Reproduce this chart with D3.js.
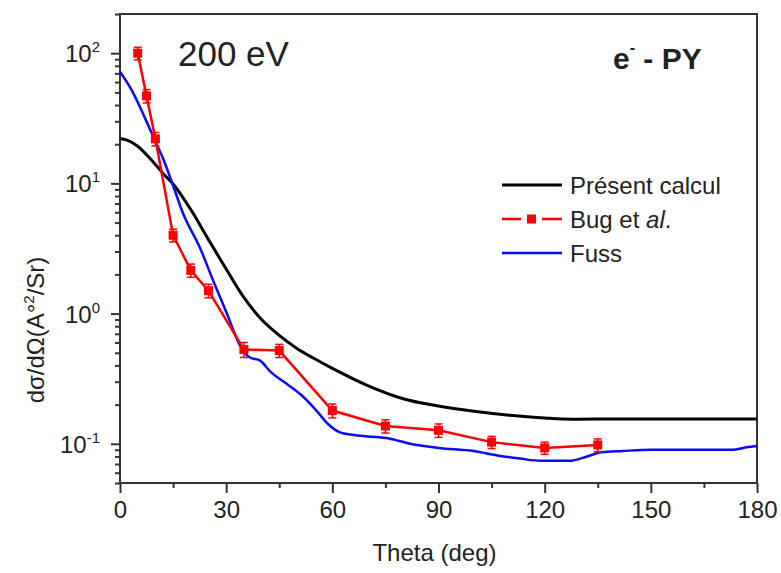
<!DOCTYPE html>
<html>
<head>
<meta charset="utf-8">
<script src="https://cdn.jsdelivr.net/npm/d3@7"></script>
<style>
  body { margin: 0; background: #fff; }
  text { font-family: "Liberation Sans", Arial, sans-serif; fill: #222; }
</style>
</head>
<body>
<svg id="chart"></svg>
<script>
// ~~~~~~~~~ DATA ~~~~~~~~~
var thetaCalc = [0, 2, 5, 9, 12.7, 15, 20, 25, 30, 35, 40, 45, 50, 55, 60, 70, 80, 90, 100, 110, 120, 125, 140, 160, 180];
var sigmaCalc = [22, 21.5, 19.3, 15, 11.5, 9.9, 6.3, 3.7, 2.2, 1.33, 0.9, 0.68, 0.54, 0.45, 0.38, 0.28, 0.222, 0.195, 0.178, 0.166, 0.158, 0.155, 0.155, 0.155, 0.155];

var thetaFuss = [0, 3.3, 7, 10, 12.7, 15, 17.8, 22.6, 26.3, 30.2, 33.9, 35, 36.7, 39.6, 42.4, 47, 51, 55.5, 59, 62, 66, 70, 76, 82, 90, 100, 107, 113, 119, 127, 132, 136, 142, 150, 173, 177, 180];
var sigmaFuss = [72, 52, 32, 21, 14.3, 9.6, 5.9, 3.2, 1.8, 1.0, 0.57, 0.51, 0.46, 0.435, 0.36, 0.29, 0.24, 0.18, 0.14, 0.123, 0.117, 0.114, 0.11, 0.1, 0.093, 0.088, 0.081, 0.077, 0.074, 0.074, 0.08, 0.086, 0.088, 0.09, 0.09, 0.094, 0.096];

var thetaBug = [5, 7.5, 10, 15, 20, 25, 35, 45, 60, 75, 90, 105, 120, 135];
var sigmaBug = [100, 47, 22, 4.0, 2.15, 1.5, 0.53, 0.52, 0.18, 0.137, 0.127, 0.103, 0.093, 0.098];
var errBug   = [11, 5.5, 2.6, 0.45, 0.25, 0.18, 0.07, 0.06, 0.022, 0.016, 0.015, 0.011, 0.01, 0.011];

var xTickValues = [0, 30, 60, 90, 120, 150, 180];
var xMinorValues = [15, 45, 75, 105, 135, 165];
var yDecades = [-1, 0, 1, 2];

var legendLabels = ["Présent calcul", "Bug et ", "Fuss"];

// ~~~~~~~~~ SVG SETUP ~~~~~~~~~
var width = 781, height = 573;
var margin = {left: 120, right: 24, top: 14, bottom: 90};

var svg = d3.select("#chart").attr("width", width).attr("height", height);

var x = d3.scaleLinear().domain([0, 180]).range([margin.left, width - margin.right]);
var y = d3.scaleLog().domain([0.05, 200]).range([height - margin.bottom, margin.top]);

var axisColor = "#333";

// frame box
svg.append("rect")
    .attr("x", x(0)).attr("y", y(200))
    .attr("width", x(180) - x(0)).attr("height", y(0.05) - y(200))
    .attr("fill", "none").attr("stroke", axisColor).attr("stroke-width", 2);

// x axis (bottom), ticks pointing out
var xAxis = svg.append("g")
    .attr("transform", "translate(0," + y(0.05) + ")")
    .call(d3.axisBottom(x).tickValues(xTickValues).tickSize(10).tickPadding(8).tickFormat(d3.format("d")));
xAxis.append("g").call(d3.axisBottom(x).tickValues(xMinorValues).tickSize(5).tickFormat(""));
xAxis.selectAll(".domain").remove();
xAxis.selectAll("line").attr("stroke", axisColor).attr("stroke-width", 2);
xAxis.selectAll("text").style("font-size", "24px").attr("fill", "#333");

// y axis (left), log ticks
var yMinor = [];
[-2, -1, 0, 1, 2].forEach(function(e){
    for (var k = 2; k <= 9; k++) {
        var v = k * Math.pow(10, e);
        if (v >= 0.05 && v <= 200) yMinor.push(v);
    }
});
var yAxis = svg.append("g").attr("transform", "translate(" + x(0) + ",0)");
yAxis.call(d3.axisLeft(y).tickValues(yDecades.map(function(e){ return Math.pow(10, e); })).tickSize(9).tickFormat(""));
yAxis.append("g").call(d3.axisLeft(y).tickValues(yMinor).tickSize(5).tickFormat(""));
yAxis.selectAll(".domain").remove();
yAxis.selectAll("line").attr("stroke", axisColor).attr("stroke-width", 2);

// decade labels 10^n
var yLab = svg.append("g");
yDecades.forEach(function(e){
    var t = yLab.append("text")
        .attr("x", x(0) - 20)
        .attr("y", y(Math.pow(10, e)) + 9)
        .attr("text-anchor", "end")
        .style("font-size", "24px").attr("fill", "#333");
    t.append("tspan").text("10");
    t.append("tspan").attr("dy", -10).style("font-size", "15px").text(e);
});

// axis titles
svg.append("text")
    .attr("x", (x(0) + x(180)) / 2 - 4).attr("y", 561)
    .attr("text-anchor", "middle").style("font-size", "24px").attr("fill", "#333")
    .text("Theta (deg)");

var yt = svg.append("text")
    .attr("transform", "translate(44," + 330 + ") rotate(-90)")
    .attr("text-anchor", "middle").style("font-size", "24px").attr("fill", "#333");
yt.append("tspan").text("dσ/dΩ(A°");
yt.append("tspan").attr("dy", -10).style("font-size", "15px").text("2");
yt.append("tspan").attr("dy", 10).text("/Sr)");

// ~~~~~~~~~ CURVES ~~~~~~~~~
var plot = svg.append("g");

function lineFor(xs, curve) {
    return d3.line()
        .x(function(d, i){ return x(xs[i]); })
        .y(function(d){ return y(d); })
        .curve(curve);
}

plot.append("path")
    .attr("d", lineFor(thetaCalc, d3.curveCatmullRom.alpha(0.5))(sigmaCalc))
    .attr("fill", "none").attr("stroke", "#000").attr("stroke-width", 3);

plot.append("path")
    .attr("d", lineFor(thetaFuss, d3.curveMonotoneX)(sigmaFuss))
    .attr("fill", "none").attr("stroke", "#0a0aff").attr("stroke-width", 2.5);

var red = "#ff0000";
plot.append("path")
    .attr("d", lineFor(thetaBug, d3.curveLinear)(sigmaBug))
    .attr("fill", "none").attr("stroke", red).attr("stroke-width", 2.5);

// error bars
var bars = plot.selectAll(".err").data(sigmaBug).enter().append("g");
bars.append("line")
    .attr("x1", function(d, i){ return x(thetaBug[i]); })
    .attr("x2", function(d, i){ return x(thetaBug[i]); })
    .attr("y1", function(d, i){ return y(d + errBug[i]); })
    .attr("y2", function(d, i){ return y(d - errBug[i]); })
    .attr("stroke", red).attr("stroke-width", 1.5);
[1, -1].forEach(function(s){
    bars.append("line")
        .attr("x1", function(d, i){ return x(thetaBug[i]) - 4; })
        .attr("x2", function(d, i){ return x(thetaBug[i]) + 4; })
        .attr("y1", function(d, i){ return y(d + s * errBug[i]); })
        .attr("y2", function(d, i){ return y(d + s * errBug[i]); })
        .attr("stroke", red).attr("stroke-width", 1.5);
});
bars.append("rect")
    .attr("x", function(d, i){ return x(thetaBug[i]) - 4.5; })
    .attr("y", function(d){ return y(d) - 4.5; })
    .attr("width", 9).attr("height", 9)
    .attr("fill", red);

// ~~~~~~~~~ ANNOTATIONS ~~~~~~~~~
svg.append("text").attr("x", 178).attr("y", 66)
    .style("font-size", "35px").attr("fill", "#111").text("200 eV");

var tag = svg.append("text").attr("x", 613).attr("y", 69)
    .style("font-size", "30px").style("font-weight", "bold").attr("fill", "#111");
tag.append("tspan").text("e");
tag.append("tspan").attr("dy", -16).style("font-size", "16px").text("-");
tag.append("tspan").attr("dy", 16).text(" - PY");

// ~~~~~~~~~ LEGEND ~~~~~~~~~
var lg = svg.append("g");
var rowY = [185, 219, 253];
lg.append("line").attr("x1", 502).attr("x2", 562).attr("y1", rowY[0]).attr("y2", rowY[0])
    .attr("stroke", "#000").attr("stroke-width", 3);
lg.append("line").attr("x1", 502).attr("x2", 521).attr("y1", rowY[1]).attr("y2", rowY[1])
    .attr("stroke", red).attr("stroke-width", 2.5);
lg.append("line").attr("x1", 542).attr("x2", 562).attr("y1", rowY[1]).attr("y2", rowY[1])
    .attr("stroke", red).attr("stroke-width", 2.5);
lg.append("rect").attr("x", 527).attr("y", rowY[1] - 4.5).attr("width", 9).attr("height", 9).attr("fill", red);
lg.append("line").attr("x1", 502).attr("x2", 562).attr("y1", rowY[2]).attr("y2", rowY[2])
    .attr("stroke", "#0a0aff").attr("stroke-width", 2.5);

legendLabels.forEach(function(lab, i){
    var t = lg.append("text").attr("x", 570).attr("y", rowY[i] + 9)
        .style("font-size", "24px").attr("fill", "#333").text(lab);
    if (i === 1) t.append("tspan").style("font-style", "italic").text("al");
    if (i === 1) t.append("tspan").text(".");
});
</script>
</body>
</html>
